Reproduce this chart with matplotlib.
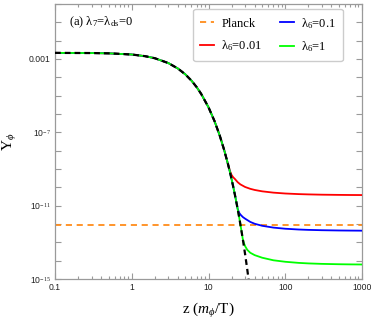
import numpy as np
import matplotlib
matplotlib.use("Agg")
import matplotlib.pyplot as plt
from matplotlib.ticker import FixedLocator, NullFormatter, LogLocator

plt.rcParams['mathtext.fontset'] = 'custom'
plt.rcParams['mathtext.rm'] = 'Liberation Serif'
plt.rcParams['mathtext.it'] = 'Liberation Serif:italic'
plt.rcParams['mathtext.bf'] = 'Liberation Serif:bold'

# equilibrium abundance (black dashed)
eq_z = [0.1, 0.3, 0.5, 1, 1.5, 2, 3, 4, 5, 6, 7, 8, 10, 12, 14, 16, 18, 19,
        20, 21, 22, 23, 24, 25, 26, 28, 30, 32, 34]
eq_Y = [2.16e-3, 2.11e-3, 2.04e-3, 1.76e-3, 1.42e-3, 1.10e-3, 5.99e-4, 3.01e-4,
        1.44e-4, 6.60e-5, 2.94e-5, 1.28e-5, 2.33e-6, 4.02e-7, 6.72e-8, 1.09e-8,
        1.75e-9, 7.0e-10, 2.74e-10, 1.08e-10, 4.24e-11, 1.66e-11, 6.50e-12,
        2.53e-12, 9.86e-13, 1.48e-13, 2.22e-14, 3.29e-15, 4.86e-16]

# freeze-out tails (after leaving equilibrium)
red_z = [19, 20, 21, 22, 24, 26, 30, 35, 40, 50, 70, 100, 150, 200, 300, 500, 700, 1000]
red_Y = [8.0e-10, 4.7e-10, 3.5e-10, 2.9e-10, 1.91e-10, 1.45e-10, 1.045e-10, 8.3e-11,
         7.19e-11, 6.06e-11, 5.14e-11, 4.61e-11, 4.27e-11, 4.12e-11, 3.97e-11,
         3.87e-11, 3.82e-11, 3.79e-11]
blue_z = [24, 25, 26, 28, 30, 35, 40, 50, 70, 100, 150, 200, 300, 500, 700, 1000]
blue_Y = [6.6e-12, 4.2e-12, 3.3e-12, 2.4e-12, 1.95e-12, 1.3e-12, 1.03e-12, 8.0e-13,
          6.37e-13, 5.52e-13, 5.0e-13, 4.78e-13, 4.58e-13, 4.43e-13, 4.37e-13, 4.32e-13]
green_z = [28, 29, 30, 32, 35, 40, 50, 70, 100, 150, 200, 300, 500, 700, 1000]
green_Y = [1.48e-13, 9.0e-14, 6.2e-14, 3.9e-14, 2.7e-14, 2.0e-14, 1.45e-14, 1.05e-14,
           8.7e-15, 7.56e-15, 7.09e-15, 6.68e-15, 6.39e-15, 6.27e-15, 6.18e-15]

planck_Y = 9.0e-13

labels = ["Planck", "λ$_6$=0.01", "λ$_6$=0.1", "λ$_6$=1"]
ytick_vals = [1e-3, 1e-7, 1e-11, 1e-15]
ytick_labels = ["0.001", "10$^{-7}$", "10$^{-11}$", "10$^{-15}$"]
xtick_vals = [0.1, 1, 10, 100, 1000]
xtick_labels = ["0.1", "1", "10", "100", "1000"]


def series(tz, tY):
    z0 = tz[0]
    zz = [z for z in eq_z if z < z0] + list(tz)
    yy = [y for z, y in zip(eq_z, eq_Y) if z < z0] + list(tY)
    return zz, yy


fig = plt.figure(figsize=(3.74, 3.22), dpi=100)
ax = fig.add_axes([55/374, 43/322, 307/374, 275/322])

ax.set_xscale('log')
ax.set_yscale('log')

hp, = ax.plot([0.1, 1000], [planck_Y, planck_Y], color='#FF8C1A', lw=1.3,
              dashes=(3.4, 2.6), zorder=2)
rz, ry = series(red_z, red_Y)
hr, = ax.plot(rz, ry, color='#FF0000', lw=1.3, zorder=3)
bz, by = series(blue_z, blue_Y)
hb, = ax.plot(bz, by, color='#0000FF', lw=1.3, zorder=4)
gz, gy = series(green_z, green_Y)
hg, = ax.plot(gz, gy, color='#00FF00', lw=1.3, zorder=5)
ax.plot(eq_z, eq_Y, color='black', lw=1.6, dashes=(2.6, 1.8), zorder=6)

ax.set_xlim(0.1, 1000)
ax.set_ylim(1e-15, 1)

ax.xaxis.set_major_locator(FixedLocator(xtick_vals))
ax.set_xticklabels(xtick_labels)
ax.xaxis.set_minor_locator(LogLocator(base=10, subs=np.arange(2, 10)))
ax.xaxis.set_minor_formatter(NullFormatter())

ax.yaxis.set_major_locator(FixedLocator(ytick_vals))
ax.set_yticklabels(ytick_labels)
ax.yaxis.set_minor_locator(FixedLocator([10.0**k for k in range(-15, 1)]))
ax.yaxis.set_minor_formatter(NullFormatter())

for s in ax.spines.values():
    s.set_color('#9a9a9a')
    s.set_linewidth(0.9)
ax.tick_params(which='both', direction='in', top=True, right=True, color='#9a9a9a',
               width=0.8)
ax.tick_params(which='major', length=4, labelsize=6.2, pad=3, labelcolor='#222222')
ax.tick_params(axis='y', which='minor', length=4)
ax.tick_params(axis='x', which='minor', length=2.2)
for lab in ax.get_xticklabels() + ax.get_yticklabels():
    lab.set_family('Liberation Sans')

ax.set_xlabel("z ($m_\\phi$/T)", family='Liberation Serif', fontsize=11, labelpad=6)
ax.set_ylabel("Y$_\\phi$", family='Liberation Serif', fontsize=11, labelpad=7.5)

ax.text(0.045, 0.935, "(a) λ$_7$=λ$_{\\rm ds}$=0", transform=ax.transAxes,
        family='Liberation Serif', fontsize=9, va='center', ha='left')

leg = ax.legend([hp, hr, hb, hg], labels, ncol=2, loc='upper right',
                bbox_to_anchor=(0.938, 0.982), borderaxespad=0,
                prop={'family': 'Liberation Serif', 'size': 9},
                handlelength=1.1, handletextpad=0.6, columnspacing=1.4,
                labelspacing=0.7, borderpad=0.55, fancybox=True, framealpha=1,
                edgecolor='#cccccc')
leg.get_frame().set_linewidth(1.0)

fig.savefig("out.png", dpi=100)
